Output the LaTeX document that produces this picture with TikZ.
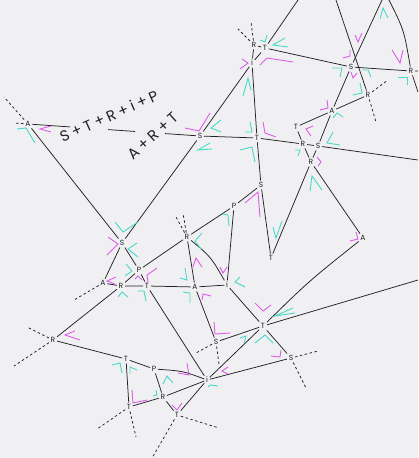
\documentclass[tikz,border=0pt]{standalone}
\usepackage{fontspec}
\newfontfamily\labfont{Poppins}
\newfontfamily\sumfont[LetterSpace=22]{Poppins}
\definecolor{paper}{RGB}{240,240,243}
\definecolor{ink}{RGB}{34,34,38}
\definecolor{tq}{RGB}{72,218,200}
\definecolor{mv}{RGB}{222,92,232}
\begin{document}
\begin{tikzpicture}[
    x=1pt, y=-1pt,
    lab/.style={inner sep=1.6pt, font=\labfont\fontsize{7.5}{8}\selectfont, text=ink},
    sumlab/.style={font=\sumfont\fontsize{15}{15}\selectfont, text=ink, inner sep=0pt},
    wire/.style={draw=ink, line width=0.75pt},
    stub/.style={draw=ink, line width=0.75pt, dash pattern=on 2.5pt off 2.5pt},
    cymk/.style={draw=tq, line width=0.9pt},
    mgmk/.style={draw=mv, line width=0.9pt}
]
    \useasboundingbox (0,0) rectangle (418,458);
    \fill[paper] (0,0) rectangle (418,458);

    % nodes
    \node[lab] (a1) at (28,124) {A};
    \node[lab] (s1) at (200,136) {S};
    \node[lab] (s2) at (122,243) {S};
    \node[lab] (r1) at (254,45) {R};
    \node[lab] (t1) at (265,48) {T};
    \node[lab] (i1) at (252,63) {i};
    \node[lab] (s3) at (351,67) {S};
    \node[lab] (r2) at (411,71) {R};
    \node[lab] (t2) at (257,138) {T};
    \node[lab] (r3) at (303,144) {R};
    \node[lab] (s4) at (318,146) {S};
    \node[lab] (r4) at (311,162) {R};
    \node[lab] (t3) at (296,127) {T};
    \node[lab] (a2) at (332,111) {A};
    \node[lab] (r5) at (368,95) {R};
    \node[lab] (s5) at (261,185) {S};
    \node[lab] (p1) at (234,206) {P};
    \node[lab] (t4) at (271,258) {T};
    \node[lab] (a3) at (363,238) {A};
    \node[lab] (r6) at (187,237) {R};
    \node[lab] (p2) at (139,270) {P};
    \node[lab] (a4) at (103,283) {A};
    \node[lab] (r7) at (121,286) {R};
    \node[lab] (t5) at (147,286) {T};
    \node[lab] (a5) at (195,287) {A};
    \node[lab] (i2) at (227,285) {i};
    \node[lab] (t6) at (263,326) {T};
    \node[lab] (s6) at (216,342) {S};
    \node[lab] (s7) at (291,358) {S};
    \node[lab] (i3) at (207,380) {i};
    \node[lab] (r8) at (53,340) {R};
    \node[lab] (t7) at (126,359) {T};
    \node[lab] (p3) at (154,369) {P};
    \node[lab] (t8) at (129,407) {T};
    \node[lab] (r9) at (163,397) {R};
    \node[lab] (t9) at (177,415) {T};

    % sums on the A--S line
    \node[sumlab, rotate=24] (sumA) at (109,116) {S+T+R+i+P};
    \node[sumlab, rotate=42] (sumB) at (153,136) {A+R+T};

    % free ends at the border
    \coordinate (e1) at (298,0);
    \coordinate (e2) at (336,0);
    \coordinate (e3) at (382,0);
    \coordinate (e4) at (389,0);
    \coordinate (e5) at (418,92);
    \coordinate (e6) at (418,71);
    \coordinate (e7) at (418,160);
    \coordinate (e8) at (418,280);

    % connectors
    \draw[wire, dash pattern=on 38pt off 38pt on 27pt off 30pt on 60pt] (a1) -- (s1);
    \draw[wire] (a1) -- (s2) (s1) -- (s2) (s1) -- (t2);
    \draw[wire] (e1) -- (t1) -- (i1) -- (s1);
    \draw[wire] (r1) -- (t1) (r1) -- (i1);
    \draw[wire] (t1) -- (s3) -- (r2) -- (e6);
    \draw[wire] (e2) -- (r5);
    \draw[wire] (e3) -- (s3) -- (a2) -- (s4);
    \draw[wire] (e4) .. controls (404,30) .. (r2) -- (e5);
    \draw[wire] (i1) -- (t2) -- (s5) -- (t4);
    \draw[wire] (t2) -- (r3) -- (s4) -- (e7);
    \draw[wire] (t3) -- (a2) -- (r5);
    \draw[wire] (t3) -- (r3) -- (r4) (s4) -- (r4);
    \draw[wire] (r4) -- (t4) (r4) -- (a3);
    \draw[wire] (r8) -- (r7) -- (p2) -- (r6) -- (p1) -- (s5);
    \draw[wire] (p1) -- (i2);
    \draw[wire] (s2) -- (a4) (s2) -- (p2) -- (t5) -- (i3);
    \draw[wire] (a4) -- (r7) -- (t5) -- (a5) -- (i2);
    \draw[wire] (r6) -- (a5) -- (s6);
    \draw[wire] (r6) .. controls (211,257) .. (i2);
    \draw[wire] (i2) -- (t6);
    \draw[wire] (t6) .. controls (309,281) .. (a3);
    \draw[wire] (t6) -- (e8) (t6) -- (s6) (t6) -- (i3) (t6) -- (s7);
    \draw[wire] (i3) -- (s7) (i3) -- (r9) (i3) -- (t9);
    \draw[wire] (p3) .. controls (183,371) .. (i3);
    \draw[wire] (r8) -- (t7) -- (p3) -- (r9) -- (t9);
    \draw[wire] (t7) -- (t8) -- (r9);

    % dashed stubs
    \draw[stub] (a1) -- (4,97) (a1) -- (14,123);
    \draw[stub] (r1) -- (251,22) (r1) -- (238,29);
    \draw[stub] (r5) -- (388,80) (r5) -- (376,122);
    \draw[stub] (a4) -- (74,300);
    \draw[stub] (r6) -- (176,217) (r6) -- (183,213);
    \draw[stub] (s6) -- (196,353) (s6) -- (219,364);
    \draw[stub] (s7) -- (318,351) (s7) -- (306,388);
    \draw[stub] (r8) -- (27,327) (r8) -- (14,366);
    \draw[stub] (t8) -- (97,429) (t8) -- (136,437);
    \draw[stub] (t9) -- (219,428) (t9) -- (152,458);

    % angle marks
    \foreach \ux/\uy/\vx/\vy/\wx/\wy in {
        17/129/26/128/35/143, 210/143/198/150/212/149, 115/222/123/232/138/222,
        137/243/128/249/138/257, 126/264/132/271/125/276, 118/297/122/292/128/297,
        138/291/144/291/146/301, 180/278/187/280/185/268, 202/233/195/241/201/249,
        183/292/190/293/190/303, 240/277/235/282/245/287, 222/214/228/215/229/226,
        273/227/276/238/282/221, 260/40/265/42/267/35, 285/38/273/45/288/47,
        243/96/248/78/251/90, 245/132/252/132/250/122, 240/150/252/147/255/162,
        295/150/300/150/298/156, 333/132/327/143/340/145, 310/191/312/176/322/190,
        333/118/337/113/343/117, 332/68/342/68/340/77, 362/70/368/70/371/77,
        353/95/362/93/360/83, 380/19/383/8/388/18, 398/77/407/77/407/85,
        293/308/275/316/295/313, 255/343/265/335/273/343, 240/338/246/336/244/343,
        208/387/210/385/218/386, 153/396/157/395/156/390, 163/384/167/376/173/383,
        112/365/120/363/122/373, 130/374/130/367/137/370, 221/120/211/128/221/132}
        \draw[cymk] (\ux,\uy) -- (\vx,\vy) -- (\wx,\wy);
    \foreach \ux/\uy/\vx/\vy/\wx/\wy in {
        51/126/40/129/51/132, 185/128/199/131/210/113, 108/237/118/244/107/255,
        157/268/147/275/148/283, 116/277/107/281/115/284, 135/279/138/276/142/280,
        193/267/196/258/202/267, 202/300/203/294/211/296, 220/267/223/273/227/267,
        245/203/258/192/260/217, 240/69/248/63/242/59, 260/65/267/58/293/62,
        263/122/265/133/276/137, 313/126/306/129/311/136, 317/157/321/162/318/166,
        320/110/328/108/327/100, 355/35/358/42/362/33, 343/58/350/56/350/50,
        351/72/353/78/357/73, 392/50/400/63/403/50, 350/241/358/239/356/232,
        255/303/263/311/271/305, 214/322/215/334/230/333, 271/356/280/357/281/350,
        228/367/222/371/228/374, 178/373/189/375/187/363, 132/390/133/403/147/400,
        172/405/177/410/182/403, 80/340/65/335/75/331}
        \draw[mgmk] (\ux,\uy) -- (\vx,\vy) -- (\wx,\wy);
\end{tikzpicture}
\end{document}
